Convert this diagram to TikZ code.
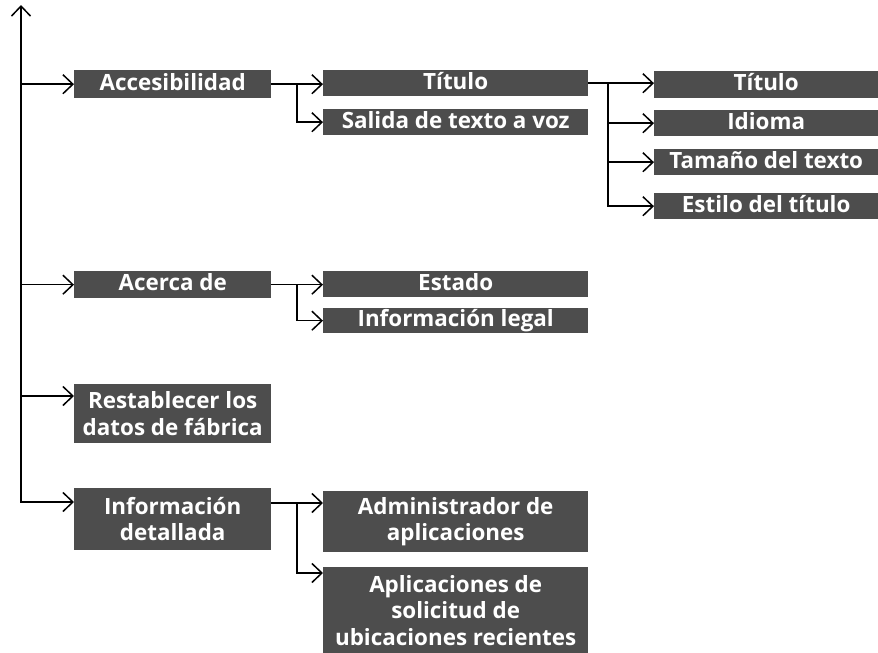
\documentclass[tikz,border=0pt]{standalone}
\usepackage{fontspec}
\setmainfont{Open Sans}
\usetikzlibrary{arrows.meta,calc}
\definecolor{boxgray}{HTML}{4D4D4D}
\begin{document}
\begin{tikzpicture}[x=1pt,y=-1pt,
  box/.style={fill=boxgray, text=white, font=\bfseries\fontsize{22.4}{26.5}\selectfont, inner sep=0pt, align=center, anchor=north west},
  one/.style={text height=17pt, text depth=5pt},
  lvA/.style={box, minimum width=197pt},
  lvB/.style={box, minimum width=265pt},
  lvC/.style={box, minimum width=224pt},
  arr/.style={line width=1.5pt, -{Straight Barb[length=10pt,width=19pt]}},
  ln/.style={line width=1.5pt}]
\useasboundingbox (0,0) rectangle (878,653);
% level 1
\node[lvA, one, minimum height=28pt] (acc) at (74,70) {Accesibilidad};
\node[lvA, one, minimum height=27pt] (acer) at (74,271) {Acerca de};
\node[lvA, minimum height=59pt] (rest) at (74,384) {Restablecer los\\datos de fábrica};
\node[lvA, minimum height=62pt] (info) at (74,488) {Información\\detallada};
% level 2
\node[lvB, one, minimum height=26pt] (tit) at (323,70) {Título};
\node[lvB, one, minimum height=26pt] (sal) at (323,109) {Salida de texto a voz};
\node[lvB, one, minimum height=26pt] (est) at (323,271) {Estado};
\node[lvB, one, minimum height=25pt] (leg) at (323,308) {Información legal};
\node[lvB, minimum height=61pt] (adm) at (323,491) {Administrador de\\aplicaciones};
\node[lvB, minimum height=86pt] (apl) at (323,567) {Aplicaciones de\\solicitud de\\ubicaciones recientes};
% level 3
\node[lvC, one, minimum height=27pt] (tt) at (654,71) {Título};
\node[lvC, one, minimum height=26pt] (idi) at (654,110) {Idioma};
\node[lvC, one, minimum height=26pt] (tam) at (654,149) {Tamaño del texto};
\node[lvC, one, minimum height=26pt] (sty) at (654,193) {Estilo del título};
% trunk
\coordinate (top) at (21,5);
\coordinate (bot) at (21,502);
\coordinate (restin) at ($(rest.north west)+(0,12)$);
\coordinate (infoin) at ($(info.north west)+(0,14)$);
\draw[line width=1.5pt, {Straight Barb[length=10pt,width=19pt]}-{Straight Barb[length=10pt,width=19pt]}] (top) -- (bot) -- (infoin);
\draw[arr] (top |- acc.west) -- (acc.west);
\draw[arr] (top |- acer.west) -- (acer.west);
\draw[arr] (top |- restin) -- (restin);
% branch Accesibilidad
\coordinate (b1) at (297,0);
\draw[arr] (acc.east) -- (tit.west |- acc.east);
\draw[arr] (b1 |- acc.east) |- (sal.west);
% branch Titulo
\coordinate (b2) at (608,0);
\draw[arr] (tit.east) -- (tt.west |- tit.east);
\draw[arr] (b2 |- tit.east) |- (idi.west);
\draw[arr] (b2 |- tit.east) |- (tam.west);
\draw[arr] (b2 |- tit.east) |- (sty.west);
% branch Acerca de
\draw[arr] (acer.east) -- (est.west |- acer.east);
\draw[arr] (b1 |- acer.east) |- (leg.west);
% branch Informacion detallada
\coordinate (infoout) at ($(info.north east)+(0,15)$);
\coordinate (admin) at ($(adm.north west)+(0,12)$);
\coordinate (aplin) at ($(apl.north west)+(0,6)$);
\draw[arr] (infoout) -- (admin |- infoout);
\draw[arr] (b1 |- infoout) |- (aplin);
\end{tikzpicture}
\end{document}
